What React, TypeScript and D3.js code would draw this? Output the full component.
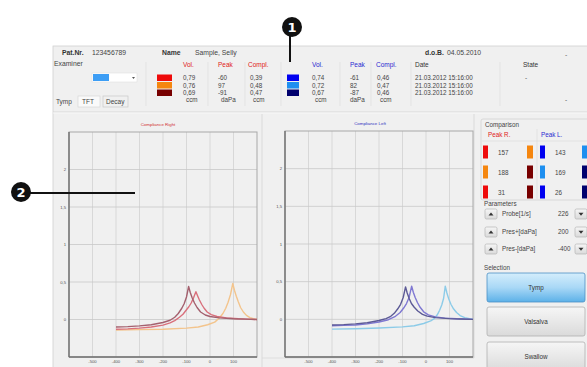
import React from "react";
import * as d3 from "d3";

// ---------- axes ----------
const pressureDomain: [number, number] = [-600, 200];
const complianceDomain: [number, number] = [-0.5, 2.5];
const xTicks = [-500, -400, -300, -200, -100, 0, 100];
const yTicks = [0, 0.5, 1, 1.5, 2];
const yTickLabels = ["0", "0,5", "1", "1,5", "2"];

// ---------- right ear (left chart) ----------
const redP = [-400, -350, -300, -250, -200, -170, -150, -130, -115, -100, -90, -80, -70, -60, -52, -45, -35, -25, -12, 5, 30, 70, 120, 160, 200];
const redC = [-0.13, -0.125, -0.115, -0.1, -0.075, -0.045, -0.015, 0.03, 0.07, 0.13, 0.17, 0.22, 0.29, 0.37, 0.31, 0.26, 0.2, 0.15, 0.1, 0.065, 0.04, 0.022, 0.01, 0.005, 0.0];
const orangeP = [-400, -300, -200, -100, -50, -10, 20, 40, 55, 67, 77, 87, 97, 104, 112, 120, 130, 142, 155, 170, 185, 200];
const orangeC = [-0.14, -0.135, -0.13, -0.115, -0.1, -0.07, -0.035, 0.02, 0.08, 0.15, 0.23, 0.33, 0.48, 0.39, 0.31, 0.24, 0.16, 0.1, 0.055, 0.025, 0.01, 0.0];
const darkRedP = [-400, -350, -300, -250, -200, -170, -150, -135, -120, -110, -100, -91, -84, -76, -66, -55, -40, -20, 0, 40, 100, 150, 200];
const darkRedC = [-0.1, -0.095, -0.085, -0.07, -0.04, -0.01, 0.03, 0.08, 0.15, 0.21, 0.3, 0.44, 0.36, 0.29, 0.22, 0.16, 0.1, 0.06, 0.04, 0.022, 0.01, 0.005, 0.0];

// ---------- left ear (right chart) ----------
const blueP = [-400, -350, -300, -250, -200, -160, -130, -110, -95, -83, -72, -61, -54, -46, -36, -25, -10, 10, 40, 80, 130, 200];
const blueC = [-0.085, -0.08, -0.075, -0.06, -0.035, -0.005, 0.04, 0.09, 0.15, 0.21, 0.29, 0.44, 0.36, 0.29, 0.22, 0.16, 0.1, 0.06, 0.032, 0.016, 0.007, 0.0];
const lightBlueP = [-400, -300, -200, -100, -50, -10, 20, 35, 48, 58, 67, 75, 82, 89, 97, 106, 117, 130, 145, 165, 185, 200];
const lightBlueC = [-0.13, -0.125, -0.115, -0.1, -0.085, -0.055, -0.02, 0.01, 0.06, 0.12, 0.19, 0.28, 0.44, 0.35, 0.27, 0.2, 0.14, 0.09, 0.05, 0.022, 0.008, 0.0];
const navyP = [-400, -350, -300, -250, -200, -170, -150, -135, -120, -108, -97, -87, -80, -72, -62, -50, -35, -15, 5, 40, 100, 150, 200];
const navyC = [-0.075, -0.07, -0.06, -0.045, -0.015, 0.01, 0.04, 0.08, 0.14, 0.2, 0.29, 0.43, 0.35, 0.28, 0.21, 0.16, 0.11, 0.065, 0.042, 0.022, 0.01, 0.005, 0.0];

// ---------- table ----------
const rightVol = ["0,79", "0,76", "0,69"];
const rightPeak = ["-60", "97", "-91"];
const rightCompl = ["0,39", "0,48", "0,47"];
const leftVol = ["0,74", "0,72", "0,67"];
const leftPeak = ["-61", "82", "-87"];
const leftCompl = ["0,46", "0,47", "0,46"];
const dates = ["21.03.2012 15:16:00", "21.03.2012 15:16:00", "21.03.2012 15:16:00"];

const SW = { red: "#ee0a0a", orange: "#f5860f", darkRed: "#780000", blue: "#0000f0", lightBlue: "#1e8ff0", navy: "#00006e" };
const rightSwatches = [SW.red, SW.orange, SW.darkRed];
const leftSwatches = [SW.blue, SW.lightBlue, SW.navy];

// ---------- comparison ----------
const compRVals = ["157", "188", "31"];
const compLVals = ["143", "169", "26"];
const compRA = [SW.red, SW.orange, SW.red];
const compRB = [SW.orange, SW.darkRed, SW.darkRed];
const compLA = [SW.blue, SW.lightBlue, SW.blue];
const compLB = [SW.lightBlue, SW.navy, SW.navy];

const paramNames = ["Probe[1/s]", "Pres+[daPa]", "Pres-[daPa]"];
const paramVals = ["226", "200", "-400"];
const selections = ["Tymp", "Valsalva", "Swallow"];

const FONT = "'Liberation Sans', Arial, sans-serif";

type Series = { p: number[]; c: number[]; color: string };

function Tymp(props: { left: number; right: number; top: number; bottom: number; title: string; titleColor: string; titleX: number; series: Series[] }) {
  const { left, right, top, bottom, title, titleColor, titleX, series } = props;
  const x = d3.scaleLinear().domain(pressureDomain).range([left, right]);
  const y = d3.scaleLinear().domain(complianceDomain).range([bottom, top]);
  const line = d3.line<[number, number]>().x((d) => x(d[0])).y((d) => y(d[1]));
  return (
    <g fontFamily={FONT}>
      <text x={titleX} y={top - 6} fontSize={4.4} fill={titleColor} textAnchor="middle">{title}</text>
      {xTicks.map((t) => (
        <line key={"vx" + t} x1={x(t)} x2={x(t)} y1={top} y2={bottom} stroke="#d2d2d2" strokeWidth={0.8} />
      ))}
      {yTicks.map((t) => (
        <line key={"hy" + t} x1={left} x2={right} y1={y(t)} y2={y(t)} stroke="#c8c8c8" strokeWidth={0.8} />
      ))}
      <rect x={left} y={top} width={right - left} height={bottom - top} fill="none" stroke="#a8a8a8" strokeWidth={1} />
      <line x1={left} x2={left} y1={top} y2={bottom} stroke="#707070" strokeWidth={1.4} />
      <line x1={left} x2={right} y1={bottom} y2={bottom} stroke="#707070" strokeWidth={1.4} />
      {yTicks.map((t, i) => (
        <text key={"yl" + t} x={left - 3} y={y(t) + 1.5} fontSize={4.2} fill="#555" textAnchor="end">{yTickLabels[i]}</text>
      ))}
      {xTicks.map((t) => (
        <text key={"xl" + t} x={x(t)} y={bottom + 6} fontSize={4.2} fill="#555" textAnchor="middle">{String(t)}</text>
      ))}
      {series.map((s, i) => (
        <path key={"s" + i} d={line(s.p.map((p, j) => [p, s.c[j]] as [number, number])) || ""} fill="none" stroke={s.color} strokeWidth={1.4} strokeLinejoin="round" />
      ))}
    </g>
  );
}

function SmallButton({ x, y, up }: { x: number; y: number; up: boolean }) {
  return (
    <g>
      <rect x={x} y={y} width={12} height={10} rx={1.5} fill="url(#btnGray)" stroke="#b4b4b4" strokeWidth={0.7} />
      {up ? (
        <path d={`M${x + 3.5},${y + 6.5} L${x + 6},${y + 3.5} L${x + 8.5},${y + 6.5} Z`} fill="#333" />
      ) : (
        <path d={`M${x + 3.5},${y + 3.8} L${x + 6},${y + 6.8} L${x + 8.5},${y + 3.8} Z`} fill="#333" />
      )}
    </g>
  );
}

export default function App() {
  const rowY = [80, 87.5, 95];
  return (
    <svg width={587} height={367} style={{ position: "absolute", left: 0, top: 0 }} fontFamily={FONT}>
      <defs>
        <linearGradient id="btnGray" x1="0" y1="0" x2="0" y2="1">
          <stop offset="0" stopColor="#f6f6f6" />
          <stop offset="1" stopColor="#dadada" />
        </linearGradient>
        <linearGradient id="btnBlue" x1="0" y1="0" x2="0" y2="1">
          <stop offset="0" stopColor="#d4eefc" />
          <stop offset="0.5" stopColor="#a9d8f6" />
          <stop offset="1" stopColor="#5cb1e8" />
        </linearGradient>
      </defs>
      <rect x={0} y={0} width={587} height={367} fill="#ffffff" />
      {/* window */}
      <rect x={53} y={46} width={540} height={330} fill="#f0f0f0" stroke="#d0d0d0" strokeWidth={0.8} />
      {/* header */}
      <text x={62} y={55} fontSize={6.8} fontWeight="bold" fill="#333">Pat.Nr.</text>
      <text x={92} y={55} fontSize={6.8} fill="#444">123456789</text>
      <text x={162} y={55} fontSize={6.8} fontWeight="bold" fill="#333">Name</text>
      <text x={195} y={55} fontSize={6.8} fill="#444">Sample, Selly</text>
      <text x={425} y={55} fontSize={6.8} fontWeight="bold" fill="#333">d.o.B.</text>
      <text x={447} y={55} fontSize={6.8} fill="#444">04.05.2010</text>
      <text x={565} y={57} fontSize={6.8} fill="#666">-</text>
      <text x={54} y={66} fontSize={6.8} fill="#444">Examiner</text>
      <rect x={92} y={73} width={45} height={9} fill="#ffffff" stroke="#e0e0e0" strokeWidth={0.6} />
      <rect x={93} y={74} width={16} height={7} fill="#3d9ef5" />
      <path d="M132,77 L135,77 L133.5,79 Z" fill="#555" />
      {/* tabs */}
      <text x={56} y={104} fontSize={6.5} fill="#444">Tymp</text>
      <rect x={78} y={96} width={22} height={11} fill="#fafafa" stroke="#d8d8d8" strokeWidth={0.7} />
      <text x={82} y={104} fontSize={6.5} fill="#444">TFT</text>
      <rect x={103} y={96} width={25} height={11} fill="#f0f0f0" stroke="#c8c8c8" strokeWidth={0.7} />
      <text x={106} y={104} fontSize={6.5} fill="#444">Decay</text>
      {/* table separators */}
      {[146, 208, 245, 281, 340, 371, 411, 500].map((sx) => (
        <line key={"sep" + sx} x1={sx} x2={sx} y1={62} y2={106} stroke="#dedede" strokeWidth={0.7} />
      ))}
      {/* table headers */}
      <text x={183} y={67} fontSize={6.5} fill="#e02020">Vol.</text>
      <text x={218} y={67} fontSize={6.5} fill="#e02020">Peak</text>
      <text x={248} y={67} fontSize={6.5} fill="#e02020">Compl.</text>
      <text x={312} y={67} fontSize={6.5} fill="#2a2ad0">Vol.</text>
      <text x={350} y={67} fontSize={6.5} fill="#2a2ad0">Peak</text>
      <text x={376} y={67} fontSize={6.5} fill="#2a2ad0">Compl.</text>
      <text x={415} y={67} fontSize={6.5} fill="#333">Date</text>
      <text x={523} y={67} fontSize={6.5} fill="#333">State</text>
      {rowY.map((ry, i) => (
        <g key={"row" + i} fontSize={6.3} fill="#444">
          <rect x={157} y={ry - 5.5} width={15} height={6.5} fill={rightSwatches[i]} />
          <text x={183} y={ry}>{rightVol[i]}</text>
          <text x={218} y={ry}>{rightPeak[i]}</text>
          <text x={250} y={ry}>{rightCompl[i]}</text>
          <rect x={287} y={ry - 5.5} width={12} height={6.5} fill={leftSwatches[i]} />
          <text x={312} y={ry}>{leftVol[i]}</text>
          <text x={350} y={ry}>{leftPeak[i]}</text>
          <text x={377} y={ry}>{leftCompl[i]}</text>
          <text x={415} y={ry}>{dates[i]}</text>
        </g>
      ))}
      <text x={525} y={80} fontSize={6.3} fill="#555">-</text>
      <text x={565} y={102} fontSize={6.3} fill="#555">-</text>
      <g fontSize={6.3} fill="#444">
        <text x={186} y={102}>ccm</text>
        <text x={221} y={102}>daPa</text>
        <text x={253} y={102}>ccm</text>
        <text x={315} y={102}>ccm</text>
        <text x={350} y={102}>daPa</text>
        <text x={380} y={102}>ccm</text>
      </g>
      {/* separators */}
      <line x1={53} x2={587} y1={112} y2={112} stroke="#d2d2d2" strokeWidth={0.8} />
      <line x1={53} x2={587} y1={113} y2={113} stroke="#fbfbfb" strokeWidth={0.8} />
      <line x1={262} x2={262} y1={114} y2={367} stroke="#d4d4d4" strokeWidth={0.8} />
      <line x1={474} x2={474} y1={114} y2={358} stroke="#d4d4d4" strokeWidth={0.8} />
      <line x1={262} x2={474} y1={358} y2={358} stroke="#d4d4d4" strokeWidth={0.6} />

      <Tymp left={69} right={257} top={132} bottom={357} title="Compliance Right" titleColor="#d03030" titleX={158}
        series={[
          { p: orangeP, c: orangeC, color: "#f3c48c" },
          { p: redP, c: redC, color: "#d9707c" },
          { p: darkRedP, c: darkRedC, color: "#a4606e" },
        ]} />
      <Tymp left={285} right={473} top={131} bottom={357} title="Compliance Left" titleColor="#3030c0" titleX={370}
        series={[
          { p: lightBlueP, c: lightBlueC, color: "#8ccbe8" },
          { p: blueP, c: blueC, color: "#7f78d2" },
          { p: navyP, c: navyC, color: "#5c5a96" },
        ]} />

      {/* comparison */}
      <rect x={481} y={119} width={112} height={81} rx={2} fill="none" stroke="#d2d2d2" strokeWidth={0.8} />
      <text x={485} y={127} fontSize={6.3} fill="#444">Comparison</text>
      <text x={488} y={137} fontSize={6.3} fill="#e02020">Peak R.</text>
      <text x={541} y={137} fontSize={6.3} fill="#2a2ad0">Peak L.</text>
      <line x1={482} x2={587} y1={141} y2={141} stroke="#dcdcdc" strokeWidth={0.7} />
      <line x1={537} x2={537} y1={129} y2={199} stroke="#dcdcdc" strokeWidth={0.7} />
      {[152, 172, 192].map((cy, i) => (
        <g key={"cmp" + i} fontSize={6.3} fill="#444">
          <rect x={483} y={cy - 6.5} width={5} height={13} fill={compRA[i]} />
          <text x={498} y={cy + 2.5}>{compRVals[i]}</text>
          <rect x={527} y={cy - 6.5} width={6} height={13} fill={compRB[i]} />
          <rect x={540} y={cy - 6.5} width={5} height={13} fill={compLA[i]} />
          <text x={555} y={cy + 2.5}>{compLVals[i]}</text>
          <rect x={582} y={cy - 6.5} width={6} height={13} fill={compLB[i]} />
        </g>
      ))}
      {/* parameters */}
      <text x={484} y={206} fontSize={6.3} fill="#444">Parameters</text>
      {[214, 232, 249].map((cy, i) => (
        <g key={"par" + i}>
          <SmallButton x={485} y={cy - 5} up={true} />
          <text x={502} y={cy + 2.3} fontSize={6.3} fill="#444">{paramNames[i]}</text>
          <text x={558} y={cy + 2.3} fontSize={6.3} fill="#444">{paramVals[i]}</text>
          <SmallButton x={575} y={cy - 5} up={false} />
        </g>
      ))}
      {/* selection */}
      <text x={484} y={270} fontSize={6.3} fill="#444">Selection</text>
      {[273, 307, 342].map((by, i) => (
        <g key={"sel" + i}>
          <rect x={487} y={by} width={98} height={29} rx={2} fill={i === 0 ? "url(#btnBlue)" : "url(#btnGray)"} stroke={i === 0 ? "#4d8fc4" : "#b0b0b0"} strokeWidth={0.8} />
          <text x={536} y={by + 16.5} fontSize={6.3} fill="#333" textAnchor="middle">{selections[i]}</text>
        </g>
      ))}

      {/* callouts */}
      <line x1={290} x2={290} y1={36} y2={62} stroke="#111" strokeWidth={2} />
      <circle cx={292} cy={27} r={10} fill="#111" />
      <text x={292} y={32} fontSize={13} fontWeight="bold" fill="#fff" textAnchor="middle" fontFamily="'DejaVu Sans', sans-serif">1</text>
      <line x1={30} x2={135} y1={193} y2={193} stroke="#111" strokeWidth={2} />
      <circle cx={21} cy={192} r={10} fill="#111" />
      <text x={21} y={197} fontSize={13} fontWeight="bold" fill="#fff" textAnchor="middle" fontFamily="'DejaVu Sans', sans-serif">2</text>
    </svg>
  );
}
